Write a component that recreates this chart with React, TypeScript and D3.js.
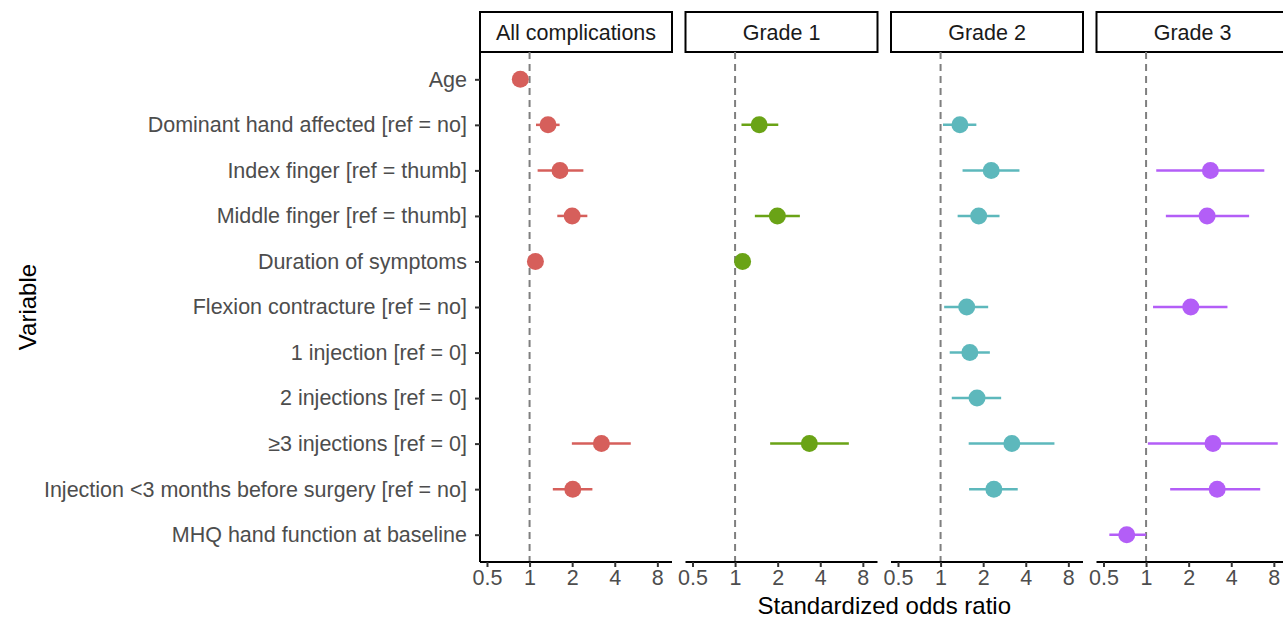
import React, { useRef, useEffect } from "react";
import * as d3 from "d3";

// Data (odds ratio, lower CI, upper CI); null = not in model
const variables = [
  "Age",
  "Dominant hand affected [ref = no]",
  "Index finger [ref = thumb]",
  "Middle finger [ref = thumb]",
  "Duration of symptoms",
  "Flexion contracture [ref = no]",
  "1 injection [ref = 0]",
  "2 injections [ref = 0]",
  "≥3 injections [ref = 0]",
  "Injection <3 months before surgery [ref = no]",
  "MHQ hand function at baseline",
];

const panels = ["All complications", "Grade 1", "Grade 2", "Grade 3"];

const allComplications = [
  [0.86, 0.82, 0.91],
  [1.35, 1.11, 1.63],
  [1.64, 1.14, 2.4],
  [2.0, 1.57, 2.56],
  [1.1, 1.03, 1.17],
  null,
  null,
  null,
  [3.22, 1.99, 5.19],
  [2.02, 1.46, 2.78],
  null,
];

const grade1 = [
  null,
  [1.48, 1.11, 2.02],
  null,
  [1.99, 1.38, 2.87],
  [1.13, 1.05, 1.2],
  null,
  null,
  null,
  [3.35, 1.77, 6.37],
  null,
  null,
];

const grade2 = [
  null,
  [1.37, 1.04, 1.79],
  [2.28, 1.43, 3.61],
  [1.86, 1.32, 2.61],
  null,
  [1.53, 1.06, 2.17],
  [1.61, 1.16, 2.23],
  [1.81, 1.2, 2.68],
  [3.19, 1.58, 6.38],
  [2.38, 1.59, 3.51],
  null,
];

const grade3 = [
  null,
  null,
  [2.85, 1.18, 6.85],
  [2.7, 1.38, 5.35],
  null,
  [2.07, 1.12, 3.76],
  null,
  null,
  [2.97, 1.03, 8.52],
  [3.18, 1.48, 6.41],
  [0.73, 0.55, 1.0],
];

const panelData = [allComplications, grade1, grade2, grade3];
const colors = ["#D65F5B", "#6AA316", "#5DB8BC", "#B35EF7"];
const xTicks = [0.5, 1, 2, 4, 8];

const App = () => {
  const svgRef = useRef<SVGSVGElement>(null);
  const width = 1283;
  const height = 620;
  const plotLeft = 480;
  const panelW = 192;
  const gap = 13.5;
  const stripTop = 12;
  const stripH = 40;
  const top = 52;
  const bottom = 562;

  useEffect(() => {
    const svg = d3.select(svgRef.current);
    svg.selectAll("*").remove();
    const font = "Liberation Sans, Arial, Helvetica, sans-serif";
    const textSize = 21.5;
    const titleSize = 24;

    const x = d3
      .scaleLog()
      .base(2)
      .domain([Math.pow(2, -1.164), Math.pow(2, 3.344)])
      .range([0, panelW]);

    const y = d3.scalePoint().domain(variables).range([top, bottom]).padding(0.6);

    // y axis on first panel
    const yAxis = svg
      .append("g")
      .attr("transform", `translate(${plotLeft},0)`)
      .call(d3.axisLeft(y).tickSize(5).tickPadding(8));
    yAxis.select(".domain").attr("stroke", "#000").attr("stroke-width", 2).attr("d", `M0,${top}V${bottom}`);
    yAxis.selectAll(".tick line").attr("stroke", "#333").attr("stroke-width", 2);
    yAxis
      .selectAll(".tick text")
      .attr("fill", "#4D4D4D")
      .attr("font-size", textSize)
      .attr("font-family", font);

    panels.forEach((name, i) => {
      const px = plotLeft + i * (panelW + gap);
      const g = svg.append("g").attr("transform", `translate(${px},0)`);

      // strip
      g.append("rect")
        .attr("x", 0)
        .attr("y", stripTop)
        .attr("width", panelW)
        .attr("height", stripH)
        .attr("fill", "#fff")
        .attr("stroke", "#000")
        .attr("stroke-width", 2);
      g.append("text")
        .attr("x", panelW / 2)
        .attr("y", stripTop + stripH / 2)
        .attr("dy", "0.36em")
        .attr("text-anchor", "middle")
        .attr("font-size", textSize)
        .attr("font-family", font)
        .attr("fill", "#1a1a1a")
        .text(name);

      // reference line at 1
      g.append("line")
        .attr("x1", x(1))
        .attr("x2", x(1))
        .attr("y1", top)
        .attr("y2", bottom)
        .attr("stroke", "#7F7F7F")
        .attr("stroke-width", 2)
        .attr("stroke-dasharray", "7,5");

      // x axis
      const xa = g
        .append("g")
        .attr("transform", `translate(0,${bottom})`)
        .call(
          d3
            .axisBottom(x)
            .tickValues(xTicks)
            .tickFormat((d) => String(d))
            .tickSize(5)
            .tickPadding(3)
        );
      xa.select(".domain").attr("stroke", "#000").attr("stroke-width", 2).attr("d", `M0,0H${panelW}`);
      xa.selectAll(".tick line").attr("stroke", "#333").attr("stroke-width", 2);
      xa.selectAll(".tick text")
        .attr("fill", "#4D4D4D")
        .attr("font-size", textSize)
        .attr("font-family", font);

      const rows = panelData[i]
        .map((d, j) => (d ? { v: variables[j], or: d[0], lo: d[1], hi: d[2] } : null))
        .filter((d) => d !== null) as { v: string; or: number; lo: number; hi: number }[];

      g.selectAll("line.ci")
        .data(rows)
        .join("line")
        .attr("class", "ci")
        .attr("x1", (d) => x(d.lo))
        .attr("x2", (d) => x(d.hi))
        .attr("y1", (d) => y(d.v)!)
        .attr("y2", (d) => y(d.v)!)
        .attr("stroke", colors[i])
        .attr("stroke-width", 2.5);

      g.selectAll("circle")
        .data(rows)
        .join("circle")
        .attr("cx", (d) => x(d.or))
        .attr("cy", (d) => y(d.v)!)
        .attr("r", 8.5)
        .attr("fill", colors[i]);
    });

    // axis titles
    const plotRight = plotLeft + 4 * panelW + 3 * gap;
    svg
      .append("text")
      .attr("x", (plotLeft + plotRight) / 2)
      .attr("y", 605)
      .attr("dy", "0.36em")
      .attr("text-anchor", "middle")
      .attr("font-size", titleSize)
      .attr("font-family", font)
      .attr("fill", "#000")
      .text("Standardized odds ratio");

    svg
      .append("text")
      .attr("transform", `translate(27,${(top + bottom) / 2}) rotate(-90)`)
      .attr("dy", "0.36em")
      .attr("text-anchor", "middle")
      .attr("font-size", titleSize)
      .attr("font-family", font)
      .attr("fill", "#000")
      .text("Variable");
  }, []);

  return (
    <svg
      ref={svgRef}
      width={width}
      height={height}
      style={{ position: "absolute", left: 0, top: 0, background: "#fff" }}
    ></svg>
  );
};

export default App;
